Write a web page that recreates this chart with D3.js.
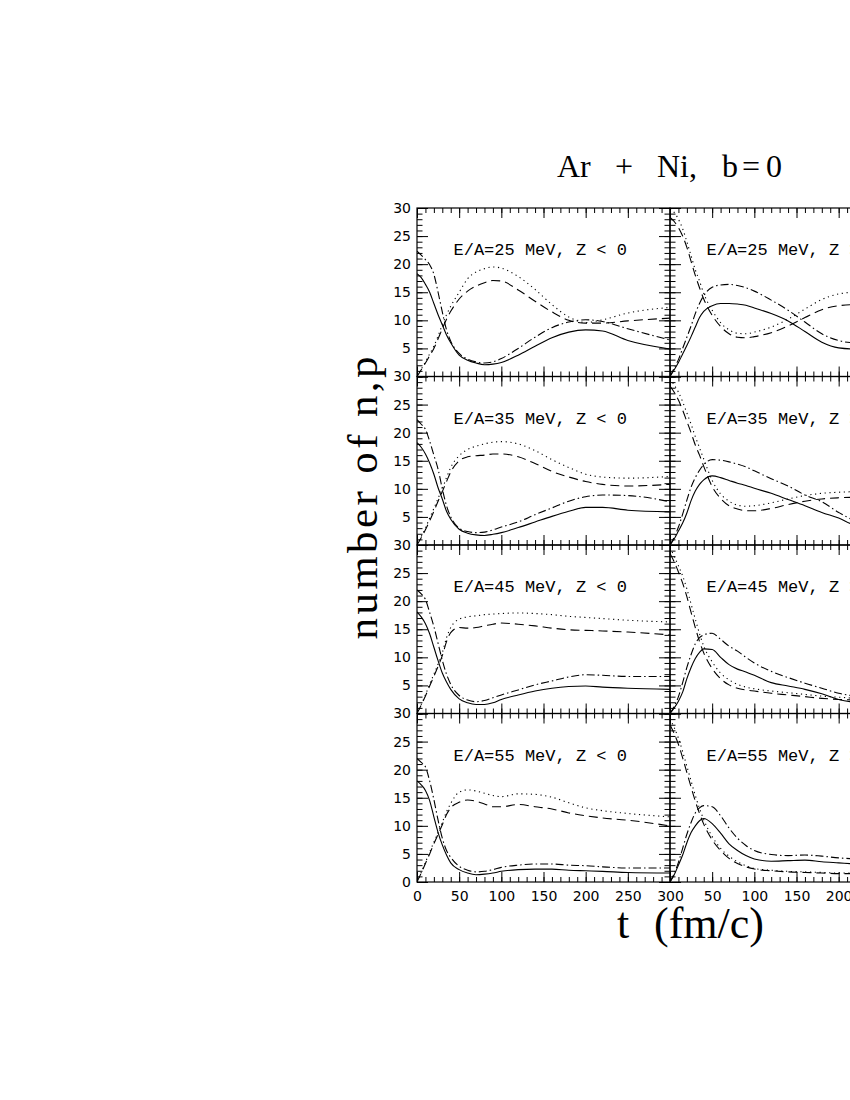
<!DOCTYPE html>
<html>
<head>
<meta charset="utf-8">
<script src="https://cdn.jsdelivr.net/npm/d3@7"></script>
<style>
html, body { margin: 0; padding: 0; background: #fff; overflow: hidden; }
svg { display: block; }
</style>
</head>
<body>
<svg id="chart" width="850" height="1100"></svg>
<script>
// time grid (fm/c) shared by every curve
const times = [0,5,10,15,20,25,30,35,40,50,60,70,80,90,100,120,140,160,180,200,220,250,300];
const energies = [25, 35, 45, 55];
const tTicks = [0,50,100,150,200,250,300];
const nTicks = [0,5,10,15,20,25,30];

// Z < 0 side
const neg25Solid   = [18.3,17.6,16.4,15.0,13.0,11.0,9.2,7.4,6.0,3.8,2.9,2.4,2.1,2.2,2.5,3.8,5.4,6.9,7.9,8.3,8.1,6.4,4.9];
const neg25DashDot = [22.3,21.6,20.8,19.9,18.2,15.0,11.5,8.3,6.3,4.1,3.1,2.6,2.4,2.6,3.2,5.0,7.0,8.7,9.7,10.1,9.8,8.5,6.5];
const neg25Dot     = [0,1.3,2.6,4.0,5.4,7.2,9.2,11.0,12.5,15.0,17.4,18.6,19.2,19.5,19.3,17.8,15.5,12.8,10.6,9.6,10.1,11.3,12.3];
const neg25Dash    = [0,1.2,2.4,3.7,5.0,6.7,8.5,10.2,11.6,13.8,15.2,16.1,16.7,17.1,17.0,15.4,13.4,11.5,10.0,9.5,9.5,9.9,10.4];

const neg35Solid   = [18.2,17.4,16.2,14.6,12.6,10.2,8.2,6.0,4.6,2.8,2.1,1.8,1.7,1.9,2.2,3.1,4.1,5.1,6.0,6.7,6.7,6.2,5.9];
const neg35DashDot = [22.3,21.5,20.6,18.5,16.0,13.5,10.0,7.0,5.0,3.0,2.4,2.2,2.3,2.7,3.2,4.1,5.4,6.6,7.8,8.6,8.9,8.8,7.7];
const neg35Dot     = [0,1.5,3.0,4.8,6.5,8.3,10.0,12.0,13.8,15.9,17.0,17.6,18.0,18.3,18.4,18.0,16.8,15.2,13.8,12.6,12.1,11.9,12.2];
const neg35Dash    = [0,1.3,2.7,4.3,6.0,7.8,9.5,11.3,13.0,15.0,15.7,15.9,16.0,16.2,16.2,15.7,14.5,13.1,12.1,11.3,10.8,10.5,10.8];

const neg45Solid   = [18.1,17.2,16.0,14.2,11.8,9.4,7.2,5.6,4.3,2.6,1.9,1.6,1.6,1.9,2.5,3.3,4.0,4.5,4.8,4.9,4.7,4.5,4.3];
const neg45DashDot = [22.0,21.3,20.3,18.0,15.5,12.5,9.5,7.0,5.2,3.2,2.4,2.1,2.3,2.8,3.3,4.2,5.1,5.8,6.5,6.9,6.8,6.6,6.6];
const neg45Dot     = [0,1.6,3.3,5.2,7.0,8.8,10.8,13.5,15.3,16.8,17.2,17.4,17.6,17.7,17.8,17.9,17.8,17.6,17.3,17.1,16.9,16.6,16.3];
const neg45Dash    = [0,1.5,3.1,4.9,6.6,8.4,10.3,12.8,14.4,15.3,15.2,15.3,15.6,15.9,16.1,15.9,15.6,15.2,14.9,14.8,14.7,14.5,14.0];

const neg55Solid   = [18.0,17.3,16.3,14.5,11.6,8.8,6.6,4.8,3.4,2.2,1.6,1.3,1.4,1.6,1.9,2.2,2.3,2.3,2.1,2.0,1.9,1.7,1.6];
const neg55DashDot = [22.0,21.3,20.5,18.0,14.7,11.0,7.8,5.6,4.4,2.8,2.1,1.8,1.9,2.2,2.6,3.0,3.2,3.2,3.0,2.9,2.7,2.5,2.5];
const neg55Dot     = [0,1.7,3.5,5.3,7.1,8.8,10.6,12.5,14.0,16.0,16.4,16.2,15.8,15.4,15.2,15.7,15.6,15.1,14.1,13.2,12.7,12.2,11.6];
const neg55Dash    = [0,1.6,3.3,5.0,6.8,8.5,10.2,12.0,13.2,14.2,14.6,14.4,13.9,13.4,13.4,13.8,13.4,13.0,12.3,11.8,11.4,11.0,10.0];

// Z > 0 side
const pos25Solid   = [0,1.2,2.5,4.0,5.5,7.1,8.8,10.5,11.6,12.6,13.0,13.0,12.9,12.7,12.2,11.2,9.9,8.0,6.1,5.1,4.9,5.0,5.5];
const pos25DashDot = [0,1.5,3.0,5.0,7.0,9.0,11.2,13.0,14.4,15.9,16.3,16.4,16.2,15.8,15.2,13.6,11.8,9.7,7.6,6.4,6.0,6.0,6.5];
const pos25Dot     = [29.8,29.2,28.0,26.3,24.0,21.5,19.0,17.0,14.8,11.8,9.6,8.3,7.7,7.6,7.9,8.8,10.2,12.0,13.7,14.7,15.0,15.0,14.8];
const pos25Dash    = [28.3,27.6,26.5,25.0,23.0,20.5,18.0,15.8,13.8,10.9,8.9,7.6,7.0,6.9,7.1,7.8,9.0,10.5,11.9,12.6,12.8,12.6,12.2];

const pos35Solid   = [0,1.1,2.5,3.9,5.7,7.9,9.6,10.8,11.6,12.3,12.0,11.5,11.0,10.6,10.1,9.2,8.1,7.0,5.8,4.8,3.5,3.0,2.5];
const pos35DashDot = [0,1.4,3.2,5.5,8.0,10.3,12.0,13.3,14.3,15.2,15.1,14.8,14.4,13.9,13.2,11.8,10.5,8.9,7.7,5.8,4.3,3.5,2.8];
const pos35Dot     = [29.6,28.5,27.2,25.5,23.5,21.5,19.3,17.3,15.3,11.5,9.1,7.8,7.1,6.9,7.0,7.5,8.2,8.8,9.2,9.4,9.5,9.6,9.7];
const pos35Dash    = [28.3,27.2,25.8,24.0,22.0,20.0,17.8,16.0,14.0,10.4,8.3,7.0,6.4,6.1,6.1,6.5,7.2,7.8,8.2,8.4,8.5,8.5,8.6];

const pos45Solid   = [0,1.0,2.2,3.8,6.2,8.2,9.8,10.9,11.5,11.4,10.0,8.7,7.9,7.4,6.8,5.5,4.9,4.3,3.5,2.5,2.0,1.8,1.6];
const pos45DashDot = [0,1.3,3.0,5.5,8.2,10.5,12.4,13.5,14.0,14.3,13.2,12.0,11.1,10.0,9.0,7.5,6.4,5.4,4.5,3.6,3.1,2.8,2.6];
const pos45Dot     = [29.5,28.0,26.3,24.5,22.2,19.5,16.8,14.2,12.0,9.2,7.2,6.0,5.2,4.7,4.4,4.0,3.7,3.4,3.1,2.9,2.7,2.5,2.2];
const pos45Dash    = [28.5,27.0,25.2,23.2,20.8,18.0,15.3,12.8,10.8,8.0,6.2,5.1,4.5,4.2,4.0,3.6,3.3,3.0,2.7,2.5,2.4,2.2,2.0];

const pos55Solid   = [0,1.3,3.0,4.8,7.0,8.8,10.0,10.9,11.3,10.4,8.7,6.8,5.6,4.7,4.1,3.7,3.8,3.9,3.6,3.4,3.2,3.0,2.8];
const pos55DashDot = [0,1.5,3.5,6.0,8.5,10.6,12.3,13.2,13.6,13.4,11.8,9.6,7.8,6.5,5.6,4.9,4.7,4.8,4.6,4.3,4.1,3.9,3.7];
const pos55Dot     = [29.0,27.5,25.6,23.2,20.6,18.0,15.4,13.1,11.1,8.1,6.0,4.6,3.6,2.9,2.4,2.1,1.9,1.8,1.7,1.6,1.6,1.5,1.4];
const pos55Dash    = [28.0,26.4,24.5,22.1,19.5,16.9,14.4,12.2,10.3,7.5,5.6,4.2,3.3,2.7,2.3,2.0,1.8,1.7,1.6,1.5,1.5,1.4,1.3];

const negSeries = [
  [neg25Solid, neg25Dash, neg25Dot, neg25DashDot],
  [neg35Solid, neg35Dash, neg35Dot, neg35DashDot],
  [neg45Solid, neg45Dash, neg45Dot, neg45DashDot],
  [neg55Solid, neg55Dash, neg55Dot, neg55DashDot]
];
const posSeries = [
  [pos25Solid, pos25Dash, pos25Dot, pos25DashDot],
  [pos35Solid, pos35Dash, pos35Dot, pos35DashDot],
  [pos45Solid, pos45Dash, pos45Dot, pos45DashDot],
  [pos55Solid, pos55Dash, pos55Dot, pos55DashDot]
];
// solid, dashed, dotted, dash-dot
const dashes = [null, '9,5', '1.2,3.6', '8,3,1.5,3'];

const left0 = 417, panelW = 253, top0 = 208, panelH = 168.5;
const svg = d3.select('#chart');

const line = d3.line().curve(d3.curveMonotoneX);

const panels = [];
energies.forEach((e, row) => {
  panels.push({ e: e, row: row, col: 0, sign: '<', lines: negSeries[row] });
  panels.push({ e: e, row: row, col: 1, sign: '>', lines: posSeries[row] });
});

panels.forEach((p, i) => {
  const x0 = left0 + p.col * panelW, y0 = top0 + p.row * panelH;
  const x = d3.scaleLinear().domain([0, 300]).range([x0, x0 + panelW]);
  const y = d3.scaleLinear().domain([0, 30]).range([y0 + panelH, y0]);
  const g = svg.append('g');

  svg.append('clipPath').attr('id', 'clip' + i)
    .append('rect').attr('x', x0).attr('y', y0).attr('width', panelW).attr('height', panelH);

  // curves
  p.lines.forEach((vals, k) => {
    g.append('path')
      .attr('clip-path', 'url(#clip' + i + ')')
      .attr('d', line(times.map((t, j) => [x(t), y(vals[j])])))
      .attr('fill', 'none')
      .attr('stroke', '#000')
      .attr('stroke-width', 1.1)
      .attr('stroke-dasharray', dashes[k]);
  });

  // inward ticks on all four sides
  const minorX = d3.range(0, 301, 10), minorY = d3.range(0, 31, 1);
  const showX = p.row === 3;
  const mk = (axis, tr, labels) => {
    const a = g.append('g').attr('transform', tr).call(axis);
    a.select('.domain').remove();
    a.selectAll('line').attr('stroke', '#000').attr('stroke-width', 1);
    a.selectAll('text').attr('font-family', 'DejaVu Sans').attr('font-size', 14).attr('fill', '#000');
    if (!labels) a.selectAll('text').remove();
    a.selectAll('text').filter(function() { return this.textContent === ''; }).remove();
    return a;
  };
  // the right panel's "0" sits inside the left panel's "300"
  const xFmt = d => (p.col === 1 && d === 0) ? '' : d;
  mk(d3.axisBottom(x).tickValues(minorX).tickSize(-5).tickFormat(''), `translate(0,${y0 + panelH})`, false);
  mk(d3.axisBottom(x).tickValues(tTicks).tickSize(-10).tickPadding(9).tickFormat(xFmt), `translate(0,${y0 + panelH})`, showX);
  mk(d3.axisTop(x).tickValues(minorX).tickSize(-5).tickFormat(''), `translate(0,${y0})`, false);
  mk(d3.axisTop(x).tickValues(tTicks).tickSize(-10).tickFormat(''), `translate(0,${y0})`, false);
  mk(d3.axisLeft(y).tickValues(minorY).tickSize(-5.5).tickFormat(''), `translate(${x0},0)`, false);
  mk(d3.axisLeft(y).tickValues(nTicks).tickSize(-11).tickPadding(6)
      .tickFormat(d => (d === 0 && p.row !== 3) ? '' : d), `translate(${x0},0)`, p.col === 0);
  mk(d3.axisRight(y).tickValues(minorY).tickSize(-5.5).tickFormat(''), `translate(${x0 + panelW},0)`, false);
  mk(d3.axisRight(y).tickValues(nTicks).tickSize(-11).tickFormat(''), `translate(${x0 + panelW},0)`, false);

  g.append('rect')
    .attr('x', x0).attr('y', y0).attr('width', panelW).attr('height', panelH)
    .attr('fill', 'none').attr('stroke', '#000').attr('stroke-width', 1.2);

  g.append('text')
    .attr('x', x0 + 36.5).attr('y', y0 + 47)
    .attr('font-family', 'Liberation Mono, monospace')
    .attr('font-size', 17)
    .attr('fill', '#000')
    .text(`E/A=${p.e} MeV, Z ${p.sign} 0`);
});

// title
const title = svg.append('text')
  .attr('y', 177)
  .attr('font-family', 'Liberation Serif, serif')
  .attr('font-size', 32)
  .attr('fill', '#000');
[['Ar', 557], ['+', 615], ['Ni,', 657], ['b', 722], ['=', 742], ['0', 766]].forEach(s => {
  title.append('tspan').attr('x', s[1]).text(s[0]);
});

// axis titles
svg.append('text')
  .attr('transform', 'translate(377,498) rotate(-90)')
  .attr('text-anchor', 'middle')
  .attr('font-family', 'Liberation Serif, serif')
  .attr('font-size', 43)
  .attr('textLength', 283)
  .attr('lengthAdjust', 'spacing')
  .attr('fill', '#000')
  .text('number of n,p');

const xt = svg.append('text')
  .attr('y', 938)
  .attr('font-family', 'Liberation Serif, serif')
  .attr('font-size', 44)
  .attr('fill', '#000');
xt.append('tspan').attr('x', 617).text('t');
xt.append('tspan').attr('x', 654).text('(fm/c)');
</script>
</body>
</html>
